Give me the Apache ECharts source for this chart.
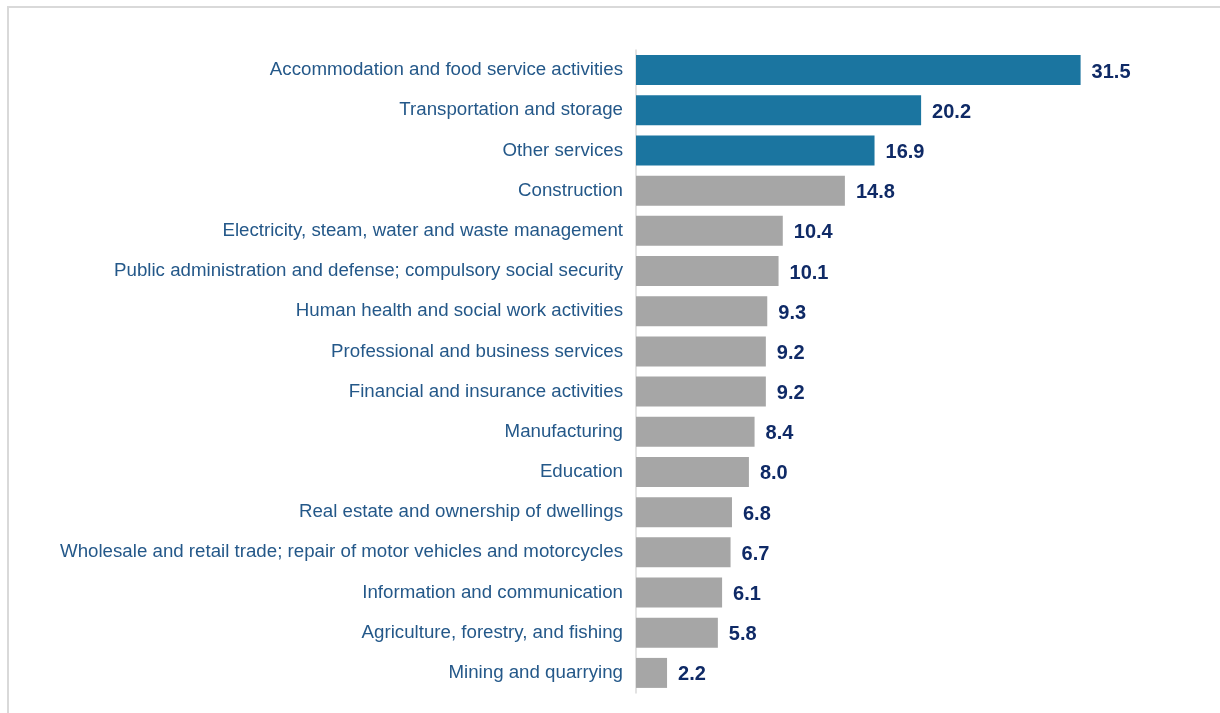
<!DOCTYPE html>
<html>
<head>
<meta charset="utf-8">
<script src="https://cdn.jsdelivr.net/npm/echarts@6/dist/echarts.min.js"></script>
<style>
html,body{margin:0;padding:0;background:#fff;}
#frame{position:absolute;left:7px;top:6px;width:1300px;height:800px;border-top:2px solid #d9d9d9;border-left:2px solid #d9d9d9;box-sizing:border-box;}
#chart{position:absolute;left:0;top:0;width:1220px;height:713px;}
</style>
</head>
<body>
<div id="frame"></div>
<div id="chart"></div>
<script>
const categories = [
  "Accommodation and food service activities",
  "Transportation and storage",
  "Other services",
  "Construction",
  "Electricity, steam, water and waste management",
  "Public administration and defense; compulsory social security",
  "Human health and social work activities",
  "Professional and business services",
  "Financial and insurance activities",
  "Manufacturing",
  "Education",
  "Real estate and ownership of dwellings",
  "Wholesale and retail trade; repair of motor vehicles and motorcycles",
  "Information and communication",
  "Agriculture, forestry, and fishing",
  "Mining and quarrying"
];
const values = [31.5, 20.2, 16.9, 14.8, 10.4, 10.1, 9.3, 9.2, 9.2, 8.4, 8.0, 6.8, 6.7, 6.1, 5.8, 2.2];
const highlighted = [true, true, true, false, false, false, false, false, false, false, false, false, false, false, false, false];

const chart = echarts.init(document.getElementById('chart'));
chart.setOption({
  animation: false,
  grid: {left: 636, right: 90, top: 50, bottom: 20, containLabel: false},
  xAxis: {
    type: 'value', min: 0, max: 35,
    show: false
  },
  yAxis: {
    type: 'category',
    inverse: true,
    data: categories,
    axisLine: {show: true, lineStyle: {color: '#d9d9d9', width: 1.5}},
    axisTick: {show: false},
    axisLabel: {
      color: '#245889', fontSize: 18.7, fontFamily: 'Liberation Sans, Arial, sans-serif', margin: 13,
      verticalAlign: 'middle', lineHeight: 24, padding: [5, 0, 0, 0]
    }
  },
  series: [{
    type: 'bar',
    data: values.map((v, i) => ({
      value: v,
      itemStyle: {color: highlighted[i] ? '#1b75a0' : '#a6a6a6'}
    })),
    barWidth: 30,
    label: {
      show: true, position: 'right', distance: 11, offset: [0, 2],
      color: '#0f2a66', fontSize: 20, fontWeight: 'bold',
      fontFamily: 'Liberation Sans, Arial, sans-serif',
      formatter: p => p.value.toFixed(1)
    }
  }]
});
</script>
</body>
</html>
